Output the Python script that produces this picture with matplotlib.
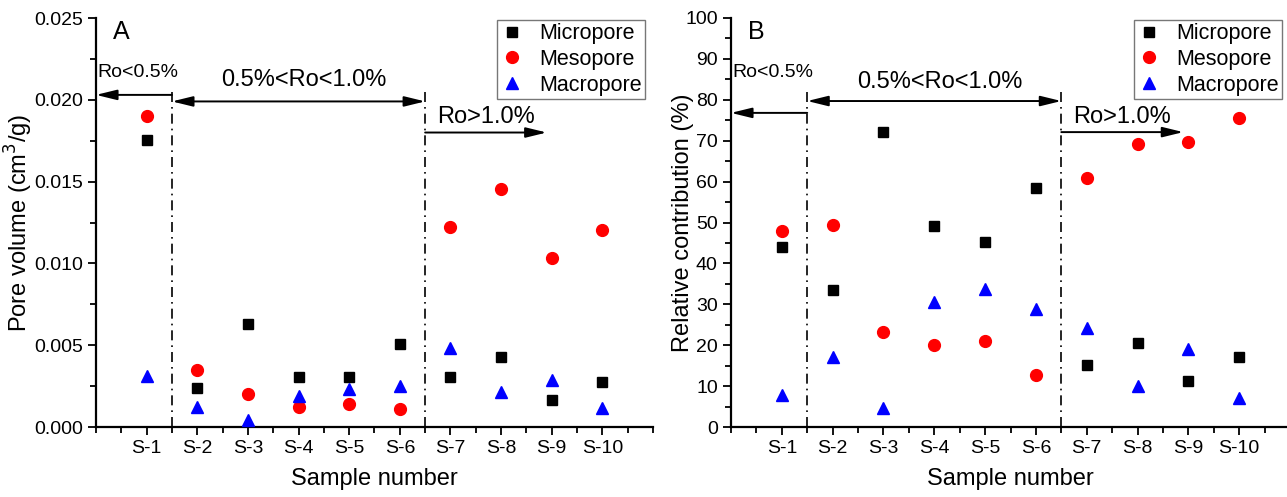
import numpy as np
import matplotlib.pyplot as plt
from matplotlib.ticker import MultipleLocator

plt.rcParams["font.family"] = ["Liberation Sans", "DejaVu Sans"]

samples = ["S-1", "S-2", "S-3", "S-4", "S-5", "S-6", "S-7", "S-8", "S-9", "S-10"]

# panel A: pore volume (cm3/g)
vol_micro = [0.01754, 0.00238, 0.00630, 0.00306, 0.00306, 0.00507, 0.00306, 0.00428, 0.00165, 0.00275]
vol_meso = [0.01900, 0.00348, 0.00202, 0.00122, 0.00141, 0.00110, 0.01222, 0.01457, 0.01033, 0.01204]
vol_macro = [0.00312, 0.00122, 0.00043, 0.00190, 0.00232, 0.00250, 0.00483, 0.00214, 0.00287, 0.00116]

# panel B: relative contribution (%)
rel_micro = [44.0, 33.5, 72.1, 49.1, 45.2, 58.4, 15.2, 20.5, 11.2, 17.1]
rel_meso = [47.9, 49.4, 23.2, 20.0, 21.0, 12.7, 60.9, 69.2, 69.7, 75.5]
rel_macro = [7.8, 17.1, 4.6, 30.6, 33.7, 28.9, 24.2, 10.0, 19.1, 7.1]

x = np.arange(1, len(samples) + 1)


def draw_panel(ax, micro, meso, macro, ymax, ystep, yfmt, ylabel, ypad, letter,
               y_low, y_mid, y_high, y_dash, t_mid):
    ax.plot(x, micro, "s", color="black", ms=7.5, label="Micropore", zorder=3)
    ax.plot(x, meso, "o", color="red", ms=8.5, label="Mesopore", zorder=3)
    ax.plot(x, macro, "^", color="blue", ms=9, label="Macropore", zorder=3)

    ax.set_xlim(0, 11)
    ax.set_ylim(0, ymax)
    ax.set_xticks(x)
    ax.set_xticklabels(samples)
    ax.xaxis.set_minor_locator(MultipleLocator(0.5))
    ax.yaxis.set_major_locator(MultipleLocator(ystep))
    ax.yaxis.set_minor_locator(MultipleLocator(ystep / 2))
    ax.yaxis.set_major_formatter(yfmt)
    ax.tick_params(which="major", direction="out", length=6, width=1.3, labelsize=14)
    ax.tick_params(which="minor", direction="out", length=4, width=1.3)
    ax.spines["top"].set_visible(False)
    ax.spines["right"].set_visible(False)
    for s in ["left", "bottom"]:
        ax.spines[s].set_linewidth(1.6)

    ax.set_xlabel("Sample number", fontsize=17, labelpad=8)
    ax.set_ylabel(ylabel, fontsize=17, labelpad=ypad)
    ax.text(0.045, 0.965, letter, transform=ax.transAxes, fontsize=18,
            ha="center", va="center")

    # rank boundaries
    for xb in (1.5, 6.5):
        ax.plot([xb, xb], [0, y_dash], color="black", lw=1.2,
                linestyle=(0, (6, 3, 1, 3)), zorder=2)

    one = dict(arrowstyle="-|>,head_length=0.9,head_width=0.22", color="black",
               lw=1.4, shrinkA=0, shrinkB=0, mutation_scale=14)
    two = dict(arrowstyle="<|-|>,head_length=0.9,head_width=0.22", color="black",
               lw=1.4, shrinkA=0, shrinkB=0, mutation_scale=14)
    ax.annotate("", xy=(0, y_low), xytext=(1.5, y_low), arrowprops=one)
    ax.annotate("", xy=(1.5, y_mid), xytext=(6.5, y_mid), arrowprops=two)
    ax.annotate("", xy=(8.9, y_high), xytext=(6.5, y_high), arrowprops=one)

    tr = ax.get_xaxis_transform()
    ax.text(0.82, 0.856, "Ro<0.5%", transform=tr, fontsize=14, ha="center", va="baseline")
    ax.text(4.1, t_mid, "0.5%<Ro<1.0%", transform=tr, fontsize=17, ha="center", va="baseline")
    ax.text(7.7, 0.743, "Ro>1.0%", transform=tr, fontsize=17, ha="center", va="baseline")

    leg = ax.legend(loc="upper right", bbox_to_anchor=(0.986, 0.995), fontsize=15.5,
                    frameon=True, fancybox=False, borderaxespad=0, handlelength=1.1,
                    handletextpad=0.7, labelspacing=0.22, borderpad=0.15)
    leg.get_frame().set_edgecolor("#555555")
    leg.get_frame().set_linewidth(1.0)


fig = plt.figure(figsize=(12.87, 4.97), dpi=100)
axA = fig.add_axes([96 / 1287, 1 - 427 / 497, 557 / 1287, 409 / 497])
axB = fig.add_axes([731 / 1287, 1 - 427 / 497, 559 / 1287, 409 / 497])

draw_panel(axA, vol_micro, vol_meso, vol_macro, 0.025, 0.005,
           lambda v, p: f"{v:.3f}", "Pore volume (cm$^3$/g)", -1, "A",
           0.0203, 0.0199, 0.0180, 0.02066, 0.834)
draw_panel(axB, rel_micro, rel_meso, rel_macro, 100, 10,
           lambda v, p: f"{v:.0f}", "Relative contribution (%)", -6, "B",
           76.8, 79.7, 72.1, 82.6, 0.829)

fig.savefig("out.png", dpi=100)
